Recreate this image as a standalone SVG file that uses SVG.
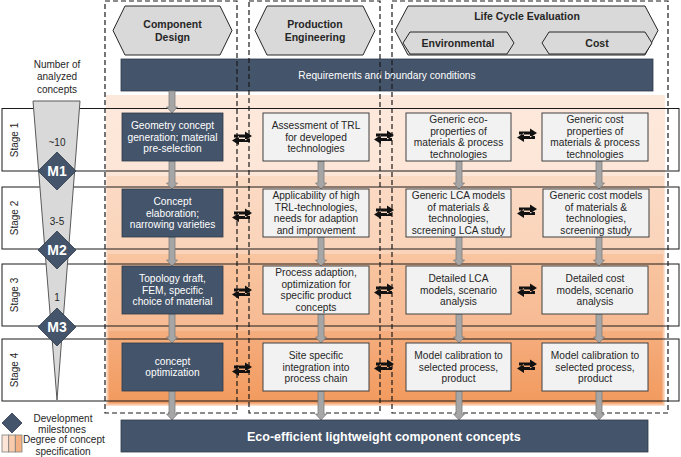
<svg xmlns="http://www.w3.org/2000/svg" xmlns:xlink="http://www.w3.org/1999/xlink" width="681" height="457" viewBox="0 0 681 457">
<style>
.hx{fill:#d9d9d9;stroke:#262626;stroke-width:1}
.ht{font:bold 10.5px "Liberation Sans",Arial,sans-serif;fill:#262626;text-anchor:middle}
.db{fill:#44546a;stroke:#2e3a4a;stroke-width:0.8}
.lb{fill:#f2f2f2;stroke:#404040;stroke-width:1}
.wt{font:10.2px "Liberation Sans",Arial,sans-serif;fill:#ffffff;text-anchor:middle}
.bt{font:10.2px "Liberation Sans",Arial,sans-serif;fill:#262626;text-anchor:middle}
.st{font:10px "Liberation Sans",Arial,sans-serif;fill:#262626;text-anchor:middle}
.dash{fill:none;stroke:#1a1a1a;stroke-width:1.2;stroke-dasharray:5 3}
.row{fill:none;stroke:#1a1a1a;stroke-width:1}
.ga{fill:#a6a6a6;stroke:#7f7f7f;stroke-width:0.8}
.da{fill:#111111}
.ms{fill:#44546a;stroke:#2e3a4a;stroke-width:0.8}
.mt{font:bold 14px "Liberation Sans",Arial,sans-serif;fill:#ffffff;text-anchor:middle}
</style>
<defs>
<linearGradient id="g1" x1="0" y1="0" x2="0" y2="1"><stop offset="0" stop-color="#fde9dc"/><stop offset="1" stop-color="#fbdcc8"/></linearGradient>
<linearGradient id="g2" x1="0" y1="0" x2="0" y2="1"><stop offset="0" stop-color="#fbdac4"/><stop offset="1" stop-color="#f8c7a5"/></linearGradient>
<linearGradient id="g3" x1="0" y1="0" x2="0" y2="1"><stop offset="0" stop-color="#f8c5a0"/><stop offset="1" stop-color="#f5b086"/></linearGradient>
<linearGradient id="g4" x1="0" y1="0" x2="0" y2="1"><stop offset="0" stop-color="#f5ae7f"/><stop offset="1" stop-color="#f29a5e"/></linearGradient>
<g id="dbl" class="da"><path d="M-8,-3.5 H3 V-6.5 L10,-2 L3,2.5 V-0.5 H-8 Z M8,1 H-3 V-2 L-10,2.5 L-3,7 V4 H8 Z"/></g>
</defs>
<rect width="681" height="457" fill="#ffffff"/>

<g id="specification-bands">
<rect x="106" y="95" width="559" height="311" fill="url(#g1)"/>
<rect x="107" y="176" width="557" height="229" fill="url(#g2)"/>
<rect x="108" y="254" width="555" height="150" fill="url(#g3)"/>
<rect x="109" y="331" width="553" height="72" fill="url(#g4)"/>
</g>

<g id="stage-rows">
<rect class="row" x="2" y="108.5" width="677" height="62.5"/>
<rect class="row" x="2" y="187" width="677" height="62"/>
<rect class="row" x="2" y="264" width="677" height="62"/>
<rect class="row" x="2" y="339" width="677" height="62"/>
<text class="st" transform="translate(17.5,140) rotate(-90)">Stage 1</text>
<text class="st" transform="translate(17.5,218) rotate(-90)">Stage 2</text>
<text class="st" transform="translate(17.5,295) rotate(-90)">Stage 3</text>
<text class="st" transform="translate(17.5,370) rotate(-90)">Stage 4</text>
</g>

<g id="requirements">
<rect class="db" x="121" y="59" width="532" height="32"/>
<text class="wt" x="387" y="78.5">Requirements and boundary conditions</text>
</g>

<g id="columns">
<rect class="dash" x="105" y="1" width="132" height="412"/>
<rect class="dash" x="249" y="1" width="131" height="412"/>
<rect class="dash" x="392" y="1" width="276" height="412"/>
</g>

<g id="header-component-design">
<polygon class="hx" points="113,30.5 125,6 220,6 232,30.5 220,55 125,55"/>
<text class="ht" x="172.5" y="27.8">Component</text>
<text class="ht" x="172.5" y="40.5">Design</text>
</g>
<g id="header-production-engineering">
<polygon class="hx" points="255,30.5 267,6 363,6 375,30.5 363,55 267,55"/>
<text class="ht" x="315" y="27.8">Production</text>
<text class="ht" x="315" y="40.5">Engineering</text>
</g>
<g id="header-life-cycle">
<polygon class="hx" points="395,30.5 408,6 645,6 658,30.5 645,55 408,55"/>
<text class="ht" x="527" y="19.8">Life Cycle Evaluation</text>
<polygon class="hx" points="403,43 410,32 507,32 514,43 507,54 410,54"/>
<text class="ht" x="458" y="47">Environmental</text>
<polygon class="hx" points="542,43 549,32 645,32 652,43 645,54 549,54"/>
<text class="ht" x="597" y="47">Cost</text>
</g>

<g id="funnel">
<text class="st" x="57" y="67.5">Number of</text>
<text class="st" x="57" y="80">analyzed</text>
<text class="st" x="57" y="92.5">concepts</text>
<polygon points="33,101 80,101 57,400" fill="#d9d9d9" stroke="#595959" stroke-width="1"/>
<text class="st" x="57" y="145.5">~10</text>
<text class="st" x="57" y="224.5">3-5</text>
<text class="st" x="57" y="300.5">1</text>
</g>
<g id="m1"><polygon class="ms" points="57,152 76,171 57,190 38,171"/><text class="mt" x="57" y="176">M1</text></g>
<g id="m2"><polygon class="ms" points="57,231 76,250 57,269 38,250"/><text class="mt" x="57" y="255">M2</text></g>
<g id="m3"><polygon class="ms" points="57,308 76,327 57,346 38,327"/><text class="mt" x="57" y="332">M3</text></g>

<g id="connectors">
<path class="ga" d="M169,91 H175 V107 H177.5 L172,113 L166.5,107 H169 Z"/>
<path class="ga" d="M169,161 H175 V183 H177.5 L172,189 L166.5,183 H169 Z"/>
<path class="ga" d="M169,237 H175 V260 H177.5 L172,266 L166.5,260 H169 Z"/>
<path class="ga" d="M169,314 H175 V337 H177.5 L172,343 L166.5,337 H169 Z"/>
<path class="ga" d="M169,391 H175 V414 H177.5 L172,420 L166.5,414 H169 Z"/>
<path class="ga" d="M318,161 H324 V183 H326.5 L321,189 L315.5,183 H318 Z"/>
<path class="ga" d="M318,237 H324 V260 H326.5 L321,266 L315.5,260 H318 Z"/>
<path class="ga" d="M318,314 H324 V337 H326.5 L321,343 L315.5,337 H318 Z"/>
<path class="ga" d="M318,391 H324 V414 H326.5 L321,420 L315.5,414 H318 Z"/>
<path class="ga" d="M456,161 H462 V183 H464.5 L459,189 L453.5,183 H456 Z"/>
<path class="ga" d="M456,237 H462 V260 H464.5 L459,266 L453.5,260 H456 Z"/>
<path class="ga" d="M456,314 H462 V337 H464.5 L459,343 L453.5,337 H456 Z"/>
<path class="ga" d="M456,391 H462 V414 H464.5 L459,420 L453.5,414 H456 Z"/>
<path class="ga" d="M596,161 H602 V183 H604.5 L599,189 L593.5,183 H596 Z"/>
<path class="ga" d="M596,237 H602 V260 H604.5 L599,266 L593.5,260 H596 Z"/>
<path class="ga" d="M596,314 H602 V337 H604.5 L599,343 L593.5,337 H596 Z"/>
<path class="ga" d="M596,391 H602 V414 H604.5 L599,420 L593.5,414 H596 Z"/>
<use xlink:href="#dbl" href="#dbl" x="242" y="138"/>
<use xlink:href="#dbl" href="#dbl" x="242" y="215"/>
<use xlink:href="#dbl" href="#dbl" x="242" y="292"/>
<use xlink:href="#dbl" href="#dbl" x="242" y="369"/>
<use xlink:href="#dbl" href="#dbl" x="384" y="137"/>
<use xlink:href="#dbl" href="#dbl" x="384" y="212"/>
<use xlink:href="#dbl" href="#dbl" x="384" y="290"/>
<use xlink:href="#dbl" href="#dbl" x="384" y="366"/>
<use xlink:href="#dbl" href="#dbl" x="527" y="135"/>
<use xlink:href="#dbl" href="#dbl" x="527" y="211"/>
<use xlink:href="#dbl" href="#dbl" x="527" y="290"/>
<use xlink:href="#dbl" href="#dbl" x="527" y="366"/>
</g>

<g id="cd1"><rect class="db" x="122" y="113" width="101" height="48"/>
<text class="wt" x="172.5" y="129">Geometry concept</text><text class="wt" x="172.5" y="140.6">generation; material</text><text class="wt" x="172.5" y="152.2">pre-selection</text></g>
<g id="cd2"><rect class="db" x="122" y="189" width="101" height="48"/>
<text class="wt" x="172.5" y="205">Concept</text><text class="wt" x="172.5" y="216.6">elaboration;</text><text class="wt" x="172.5" y="228.2">narrowing varieties</text></g>
<g id="cd3"><rect class="db" x="122" y="266" width="101" height="48"/>
<text class="wt" x="172.5" y="282">Topology draft,</text><text class="wt" x="172.5" y="293.6">FEM, specific</text><text class="wt" x="172.5" y="305.2">choice of material</text></g>
<g id="cd4"><rect class="db" x="122" y="343" width="101" height="48"/>
<text class="wt" x="172.5" y="364.8">concept</text><text class="wt" x="172.5" y="376.4">optimization</text></g>

<g id="pe1"><rect class="lb" x="263" y="113" width="106" height="48"/>
<text class="bt" x="316" y="129">Assessment of TRL</text><text class="bt" x="316" y="140.6">for developed</text><text class="bt" x="316" y="152.2">technologies</text></g>
<g id="pe2"><rect class="lb" x="263" y="189" width="106" height="48"/>
<text class="bt" x="316" y="199.2">Applicability of high</text><text class="bt" x="316" y="210.8">TRL-technologies,</text><text class="bt" x="316" y="222.4">needs for adaption</text><text class="bt" x="316" y="234">and improvement</text></g>
<g id="pe3"><rect class="lb" x="263" y="266" width="106" height="48"/>
<text class="bt" x="316" y="276.2">Process adaption,</text><text class="bt" x="316" y="287.8">optimization for</text><text class="bt" x="316" y="299.4">specific product</text><text class="bt" x="316" y="311">concepts</text></g>
<g id="pe4"><rect class="lb" x="263" y="343" width="106" height="48"/>
<text class="bt" x="316" y="359">Site specific</text><text class="bt" x="316" y="370.6">integration into</text><text class="bt" x="316" y="382.2">process chain</text></g>

<g id="env1"><rect class="lb" x="406" y="113" width="105" height="48"/>
<text class="bt" x="458.5" y="123.2">Generic eco-</text><text class="bt" x="458.5" y="134.8">properties of</text><text class="bt" x="458.5" y="146.4">materials &amp; process</text><text class="bt" x="458.5" y="158">technologies</text></g>
<g id="env2"><rect class="lb" x="406" y="189" width="105" height="48"/>
<text class="bt" x="458.5" y="199.2">Generic LCA models</text><text class="bt" x="458.5" y="210.8">of materials &amp;</text><text class="bt" x="458.5" y="222.4">technologies,</text><text class="bt" x="458.5" y="234">screening LCA study</text></g>
<g id="env3"><rect class="lb" x="406" y="266" width="105" height="48"/>
<text class="bt" x="458.5" y="282">Detailed LCA</text><text class="bt" x="458.5" y="293.6">models, scenario</text><text class="bt" x="458.5" y="305.2">analysis</text></g>
<g id="env4"><rect class="lb" x="406" y="343" width="105" height="48"/>
<text class="bt" x="458.5" y="359">Model calibration to</text><text class="bt" x="458.5" y="370.6">selected process,</text><text class="bt" x="458.5" y="382.2">product</text></g>

<g id="cost1"><rect class="lb" x="542" y="113" width="106" height="48"/>
<text class="bt" x="595" y="123.2">Generic cost</text><text class="bt" x="595" y="134.8">properties of</text><text class="bt" x="595" y="146.4">materials &amp; process</text><text class="bt" x="595" y="158">technologies</text></g>
<g id="cost2"><rect class="lb" x="543" y="189" width="106" height="48"/>
<text class="bt" x="596" y="199.2">Generic cost models</text><text class="bt" x="596" y="210.8">of materials &amp;</text><text class="bt" x="596" y="222.4">technologies,</text><text class="bt" x="596" y="234">screening study</text></g>
<g id="cost3"><rect class="lb" x="542" y="266" width="106" height="48"/>
<text class="bt" x="595" y="282">Detailed cost</text><text class="bt" x="595" y="293.6">models, scenario</text><text class="bt" x="595" y="305.2">analysis</text></g>
<g id="cost4"><rect class="lb" x="542" y="343" width="106" height="48"/>
<text class="bt" x="595" y="359">Model calibration to</text><text class="bt" x="595" y="370.6">selected process,</text><text class="bt" x="595" y="382.2">product</text></g>

<g id="result">
<rect class="db" x="121" y="420" width="527" height="32"/>
<text x="247" y="440.5" style="font:bold 12.5px 'Liberation Sans',Arial,sans-serif;fill:#ffffff">Eco-efficient lightweight component concepts</text>
</g>

<g id="legend">
<polygon class="ms" points="12,413 22,423 12,433 2,423"/>
<text class="st" x="63" y="421.5">Development</text>
<text class="st" x="62" y="433">milestones</text>
<rect x="2" y="435" width="6.7" height="17" fill="#fce4d6" stroke="#7f7f7f" stroke-width="0.8"/>
<rect x="8.7" y="435" width="6.6" height="17" fill="#f8cbad" stroke="#7f7f7f" stroke-width="0.8"/>
<rect x="15.3" y="435" width="6.7" height="17" fill="#f4b183" stroke="#7f7f7f" stroke-width="0.8"/>
<text x="23" y="443" style="font:10px 'Liberation Sans',Arial,sans-serif;fill:#262626">Degree of concept</text>
<text class="st" x="63" y="455">specification</text>
</g>
</svg>
